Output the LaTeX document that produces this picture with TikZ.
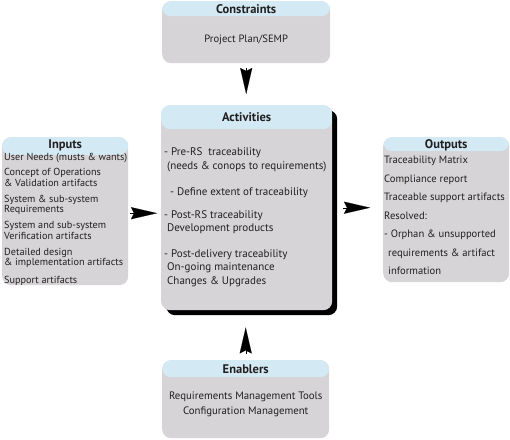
\documentclass[tikz,border=0pt]{standalone}
\usepackage{fontspec}
\setmainfont{PT Sans}
\usepackage{xcolor}
\usetikzlibrary{arrows.meta,positioning,shadows}
\definecolor{boxgray}{HTML}{D6D4D6}
\definecolor{hdrblue}{HTML}{D3EAF4}
\definecolor{ink}{HTML}{231F20}
\tikzset{
  box/.style={fill=boxgray, rounded corners=9pt, inner sep=0pt, anchor=north west,
    path picture={\fill[hdrblue] (path picture bounding box.north west)
      rectangle ([yshift=-#1]path picture bounding box.north east);}},
  box/.default=16pt,
  hdr/.style={font=\fontsize{12.5}{14}\selectfont\bfseries, text=ink, inner sep=0pt},
  txt/.style={font=\fontsize{10.2}{10.5}\selectfont, text=ink, inner sep=0pt, align=left, anchor=north west},
  tip/.style={-{Stealth[length=26pt,width=12pt,inset=3pt]}, line width=0.1pt, black},
}
\begin{document}
\begin{tikzpicture}[x=1pt,y=-1pt]
\useasboundingbox (0,0) rectangle (510,439);
% Boxes
\node[box=15pt, minimum width=168pt, minimum height=62pt] (constr) at (162,1) {};
\node[box=24pt, minimum width=171pt, minimum height=205pt,
  drop shadow={shadow xshift=5pt, shadow yshift=-5pt, fill=black, opacity=1}] (act) at (161,105) {};
\node[box=18pt, minimum width=126pt, minimum height=148pt] (inputs) at (2,137) {};
\node[box=14pt, minimum width=126pt, minimum height=145pt] (outputs) at (383,137) {};
\node[box=17pt, minimum width=167pt, minimum height=78pt] (enabl) at (162,360) {};
% Headers
\node[hdr] (constr-h) at ([yshift=-8pt]constr.north) {Constraints};
\node[hdr] (act-h) at ([yshift=-12pt]act.north) {Activities};
\node[hdr] (inputs-h) at ([yshift=-8.5pt]inputs.north) {Inputs};
\node[hdr] (outputs-h) at ([yshift=-8pt]outputs.north) {Outputs};
\node[hdr] (enabl-h) at ([yshift=-9pt]enabl.north) {Enablers};
% Contents
\node[txt, font=\fontsize{10.6}{12}\selectfont, anchor=center] (constr-b) at ([yshift=-39pt]constr.north) {Project Plan/SEMP};
\node[txt, font=\fontsize{10.8}{12}\selectfont, anchor=north] (enabl-b) at ([yshift=-31pt]enabl.north)
  {\begin{tabular}{@{}c@{}}Requirements Management Tools\\[2.5pt] Configuration Management\end{tabular}};
\node[txt] (inputs-b) at ([xshift=2pt,yshift=-16pt]inputs.north west)
  {User Needs (musts \& wants)\\[5pt]
   Concept of Operations\\ \& Validation artifacts\\[5.5pt]
   System \& sub-system\\ Requirements\\[5.5pt]
   System and sub-system\\ Verification artifacts\\[5.5pt]
   Detailed design\\ \& implementation artifacts\\[7pt]
   Support artifacts};
\node[txt, font=\fontsize{10.6}{18.5}\selectfont] (outputs-b) at ([xshift=1pt,yshift=-19pt]outputs.north west)
  {Traceability Matrix\\
   Compliance report\\
   Traceable support artifacts\\
   Resolved:\\
   - Orphan \& unsupported\\
   \hspace{4pt}requirements \& artifact\\
   \hspace{4pt}information};
\node[txt, font=\fontsize{11}{13.5}\selectfont] (act-b) at ([xshift=3pt,yshift=-42.5pt]act.north west)
  {- Pre-RS\ \ traceability\\
   \hspace{3pt}(needs \& conops to requirements)\\[13pt]
   \hspace{6pt}- Define extent of traceability\\[9pt]
   - Post-RS traceability\\
   \hspace{3pt}Development products\\[12pt]
   - Post-delivery traceability\\
   \hspace{3pt}On-going maintenance\\
   \hspace{3pt}Changes \& Upgrades};
% Arrows
\draw[tip] ([yshift=-5pt]constr.south) -- ([yshift=11pt]constr.south |- act.north);
\draw[tip] ([yshift=6pt]enabl.north) -- ([yshift=-17pt]enabl.north |- act.south);
\draw[tip] ([xshift=2pt,yshift=-2pt]inputs.east) -- ([xshift=-4pt,yshift=-2pt]inputs.east -| act.west);
\draw[tip] ([xshift=11pt]act.east) -- ([xshift=-13pt]act.east -| outputs.west);
\end{tikzpicture}
\end{document}
